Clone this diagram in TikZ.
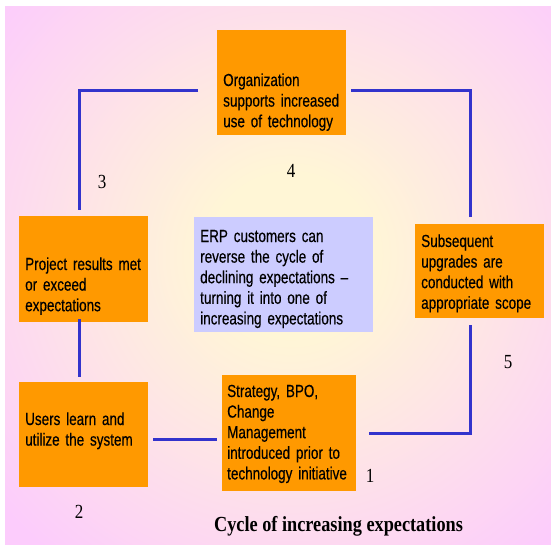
\documentclass[tikz,border=0pt]{standalone}
\usepackage{fontspec}
\newfontfamily\boxfont[FakeStretch=0.77,FakeBold=0.4]{Liberation Sans}
\newfontfamily\serifnum[FakeStretch=0.85]{Liberation Serif}
\definecolor{bgpink}{RGB}{252,204,252}
\definecolor{bgcream}{RGB}{255,246,214}
\definecolor{boxorange}{RGB}{255,153,0}
\definecolor{boxlav}{RGB}{204,204,255}
\definecolor{linkblue}{RGB}{51,51,204}
\pgfdeclareradialshading{bgshade}{\pgfpoint{0bp}{0bp}}{color(0bp)=(bgcream); color(7bp)=(bgcream); color(33bp)=(bgpink); color(50bp)=(bgpink)}
\begin{document}
\begin{tikzpicture}[x=1pt,y=-1pt,
  obox/.style={fill=boxorange, draw=none, inner sep=0pt, anchor=north west},
  lbox/.style={fill=boxlav, draw=none, inner sep=0pt, anchor=north west},
  btext/.style={inner sep=0pt, anchor=base west, align=left, text width=150pt,
    font=\boxfont\fontsize{17.5}{20.6}\selectfont},
  numlbl/.style={inner sep=0pt, anchor=base, font=\serifnum\fontsize{20}{24}\selectfont},
  conn/.style={draw=linkblue, line width=3pt}]
\useasboundingbox (0,0) rectangle (551,544);
\fill[white] (0,0) rectangle (551,544);
\fill[bgpink] (5,6) rectangle (551,544);
\begin{scope}
  \clip (5,6) rectangle (551,544);
  \shade[shading=bgshade] (0,-35) rectangle (580,545);
\end{scope}
% boxes
\node[obox, minimum width=129pt, minimum height=105pt] (b4) at (217,30) {};
\node[obox, minimum width=129pt, minimum height=106pt] (b3) at (19,216) {};
\node[lbox, minimum width=179pt, minimum height=115pt] (bc) at (194,217) {};
\node[obox, minimum width=129pt, minimum height=94pt] (b5) at (415,224) {};
\node[obox, minimum width=129pt, minimum height=105pt] (b2) at (19,382) {};
\node[obox, minimum width=134pt, minimum height=116pt] (b1) at (222,375) {};
% texts
\node[btext] (t4) at (223,86) {Organization\\supports increased\\use of technology};
\node[btext] (t3) at (25,270) {Project results met\\or exceed\\expectations};
\node[btext, text width=175pt] (tc) at (200,242) {ERP customers can\\reverse the cycle of\\declining expectations –\\turning it into one of\\increasing expectations};
\node[btext] (t5) at (421,247) {Subsequent\\upgrades are\\conducted with\\appropriate scope};
\node[btext] (t2) at (25,425) {Users learn and\\utilize the system};
\node[btext] (t1) at (227,397) {Strategy, BPO,\\Change\\Management\\introduced prior to\\technology initiative};
% numbers
\node[numlbl] (n3) at (102,188) {3};
\node[numlbl] (n4) at (291,177) {4};
\node[numlbl] (n5) at (508,368) {5};
\node[numlbl] (n1) at (370,482) {1};
\node[numlbl] (n2) at (79,518) {2};
\node[inner sep=0pt, anchor=base, font=\serifnum\bfseries\fontsize{21.5}{26}\selectfont] (title) at (338.5,531) {Cycle of increasing expectations};
% connector end points
\coordinate (a4l) at (198,90);
\coordinate (a3t) at (79,210);
\coordinate (a3b) at (79,319);
\coordinate (a2t) at (79,377);
\coordinate (a2r) at (153,439);
\coordinate (a1l) at (217,439);
\coordinate (a1r) at (369,433);
\coordinate (a5b) at (470,325);
\coordinate (a5t) at (470,217);
\coordinate (a4r) at (351,90);
\draw[conn] (a4l) -| (a3t);
\draw[conn] (a3b) -- (a2t);
\draw[conn] (a2r) -- (a1l);
\draw[conn] (a1r) -| (a5b);
\draw[conn] (a5t) |- (a4r);
\end{tikzpicture}
\end{document}
